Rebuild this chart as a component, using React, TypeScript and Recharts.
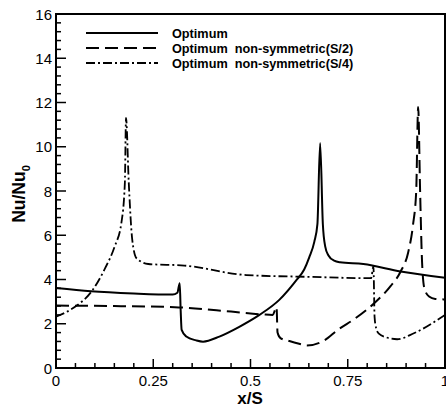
import React from 'react';
import { LineChart, Line, XAxis, YAxis, ReferenceArea } from 'recharts';

// Optimum (solid)
const optimumX = [0, 0.09, 0.2, 0.3, 0.312, 0.318, 0.3205, 0.323, 0.335, 0.36, 0.378, 0.42, 0.47, 0.523, 0.574, 0.617, 0.638, 0.651, 0.664, 0.672, 0.679, 0.686, 0.692, 0.7, 0.715, 0.73, 0.79, 0.886, 1.0];
const optimumY = [3.62, 3.47, 3.37, 3.32, 3.4, 3.83, 2.6, 1.72, 1.42, 1.25, 1.19, 1.42, 1.85, 2.4, 3.08, 3.95, 4.45, 5.0, 5.7, 6.5, 10.17, 6.5, 5.5, 5.1, 4.85, 4.78, 4.7, 4.36, 4.08];

// Optimum non-symmetric (S/2), dashed
const halfX = [0, 0.15, 0.305, 0.45, 0.532, 0.557, 0.567, 0.5695, 0.577, 0.6, 0.625, 0.645, 0.69, 0.724, 0.77, 0.818, 0.86, 0.886, 0.905, 0.918, 0.926, 0.931, 0.936, 0.941, 0.947, 0.959, 0.975, 1.0];
const halfY = [2.82, 2.8, 2.75, 2.55, 2.42, 2.4, 2.75, 1.6, 1.35, 1.22, 1.1, 1.02, 1.25, 1.72, 2.25, 2.93, 3.7, 4.36, 5.2, 6.5, 8.0, 11.8, 8.0, 4.8, 3.6, 3.23, 3.12, 3.1];

// Optimum non-symmetric (S/4), dash-dot
const quarterX = [0, 0.049, 0.091, 0.126, 0.151, 0.168, 0.177, 0.18, 0.187, 0.196, 0.207, 0.237, 0.33, 0.489, 0.65, 0.81, 0.816, 0.819, 0.823, 0.83, 0.85, 0.877, 0.92, 1.0];
const quarterY = [2.32, 2.77, 3.45, 4.5, 5.5, 6.55, 8.36, 11.3, 8.4, 5.8, 4.96, 4.7, 4.63, 4.2, 4.12, 4.06, 4.6, 2.3, 1.8, 1.55, 1.38, 1.3, 1.57, 2.4];

const seriesNames = ['Optimum', 'Optimum  non-symmetric(S/2)', 'Optimum  non-symmetric(S/4)'];

const xMajorTicks = [0, 0.25, 0.5, 0.75, 1];
const yMajorTicks = [0, 2, 4, 6, 8, 10, 12, 14, 16];
const xTicks = Array.from({ length: 21 }, (_, i) => Math.round(i * 5) / 100);
const yTicks = Array.from({ length: 41 }, (_, i) => Math.round(i * 4) / 10);

const zip = (xs: number[], ys: number[]) => xs.map((x, i) => ({ x, y: ys[i] }));

const FONT = '"Liberation Sans", Arial, Helvetica, sans-serif';
const dashes = [undefined, '13 6', '9 3 2 3'];

const XTick = (props: any) => {
  const { x, y, payload } = props;
  const major = xMajorTicks.includes(payload.value);
  return (
    <g>
      <line x1={x} x2={x} y1={y} y2={y - (major ? 9 : 5)} stroke="#000" strokeWidth={1.5} />
      {major && (
        <text x={x} y={y + 18} textAnchor="middle" fontSize={15} fontFamily={FONT} fill="#000">
          {String(payload.value)}
        </text>
      )}
    </g>
  );
};

const YTick = (props: any) => {
  const { x, y, payload } = props;
  const major = yMajorTicks.includes(payload.value);
  return (
    <g>
      <line x1={x} x2={x + (major ? 10 : 5)} y1={y} y2={y} stroke="#000" strokeWidth={1.5} />
      {major && (
        <text x={x - 4} y={y + 5.5} textAnchor="end" fontSize={15} fontFamily={FONT} fill="#000">
          {String(payload.value)}
        </text>
      )}
    </g>
  );
};

export default function App() {
  return (
    <div style={{ position: 'fixed', left: 0, top: 0, width: 446, height: 408, background: '#fff' }}>
      <LineChart width={446} height={408} margin={{ top: 14, right: 1, bottom: 0, left: 0 }}>
        <XAxis
          type="number"
          dataKey="x"
          domain={[0, 1]}
          ticks={xTicks}
          interval={0}
          height={40}
          tickSize={0}
          tickMargin={0}
          tickLine={false}
          axisLine={false}
          tick={<XTick />}
          allowDataOverflow
        />
        <YAxis
          type="number"
          dataKey="y"
          domain={[0, 16]}
          ticks={yTicks}
          interval={0}
          width={56}
          tickSize={0}
          tickMargin={0}
          tickLine={false}
          axisLine={false}
          tick={<YTick />}
          allowDataOverflow
        />
        <ReferenceArea x1={0} x2={1} y1={0} y2={16} fill="none" stroke="#000" strokeWidth={2} fillOpacity={0} />
        <Line data={zip(optimumX, optimumY)} dataKey="y" type="monotone" stroke="#000" strokeWidth={2} dot={false} isAnimationActive={false} />
        <Line data={zip(halfX, halfY)} dataKey="y" type="monotone" stroke="#000" strokeWidth={2} strokeDasharray={dashes[1]} dot={false} isAnimationActive={false} />
        <Line data={zip(quarterX, quarterY)} dataKey="y" type="monotone" stroke="#000" strokeWidth={1.8} strokeDasharray={dashes[2]} dot={false} isAnimationActive={false} />
      </LineChart>
      <svg width={446} height={408} style={{ position: 'absolute', left: 0, top: 0, pointerEvents: 'none' }}>
        {seriesNames.map((name, i) => (
          <g key={name}>
            <line x1={86} x2={158} y1={33 + i * 15} y2={33 + i * 15} stroke="#000" strokeWidth={2} strokeDasharray={dashes[i]} />
            <text x={172} y={38 + i * 15} fontSize={12.7} fontWeight="bold" fontFamily={FONT} fill="#000" style={{ whiteSpace: 'pre' }}>
              {name}
            </text>
          </g>
        ))}
        <text x={250} y={404} textAnchor="middle" fontSize={17} fontWeight="bold" fontFamily={FONT} fill="#000">
          x/S
        </text>
        <text x={25} y={194} transform="rotate(-90 25 194)" textAnchor="middle" fontSize={17.5} fontWeight="bold" fontFamily={FONT} fill="#000">
          Nu/Nu<tspan fontSize={11} dy={5}>0</tspan>
        </text>
      </svg>
    </div>
  );
}
